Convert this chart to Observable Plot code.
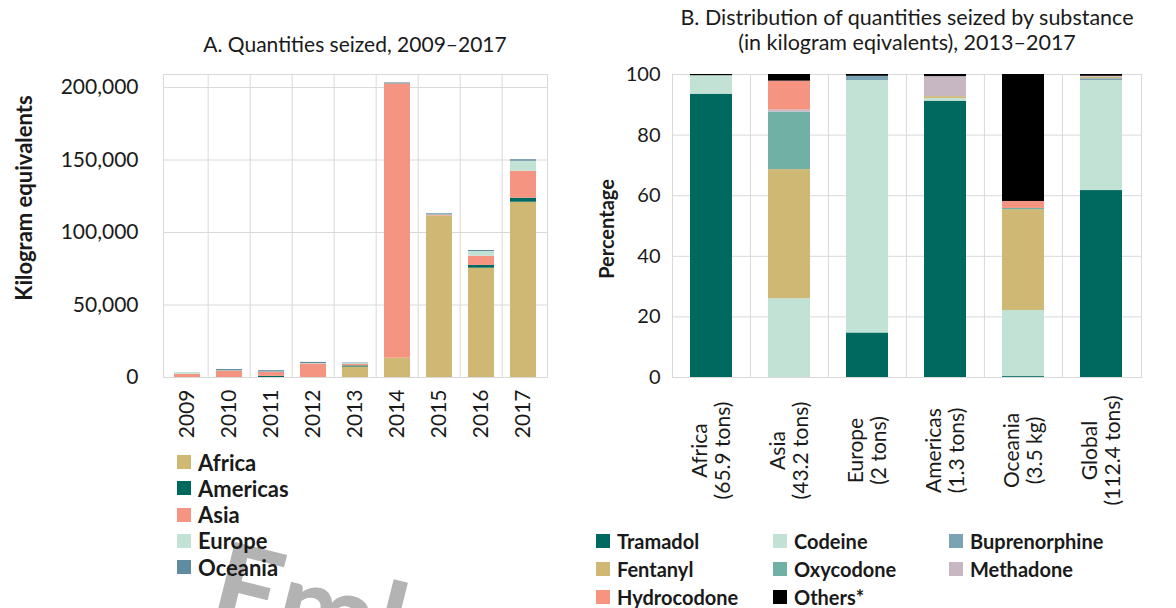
<!DOCTYPE html>
<html><head><meta charset="utf-8">
<script src="https://cdn.jsdelivr.net/npm/d3@7"></script>
<script src="https://cdn.jsdelivr.net/npm/@observablehq/plot@0.6"></script>
<style>
body{margin:0;background:#fff;font-family:Lato,"Open Sans",sans-serif;color:#1a1a1a;}
#wrap{position:relative;width:1176px;height:608px;overflow:hidden;background:#fff;}
.abs{position:absolute;white-space:nowrap;}
.title{font-size:21px;text-align:center;line-height:25px;}
.ylab{font-weight:bold;transform:translate(-50%,-50%) rotate(-90deg);}
.leg{position:absolute;font-weight:bold;display:flex;align-items:center;height:24px;}
.leg span.sw{display:inline-block;width:14px;height:14px;margin-right:7px;}
#wm{position:absolute;left:233px;top:510px;font-size:118px;line-height:1.2;font-weight:bold;color:#b3b3b3;transform:rotate(14deg);transform-origin:left top;white-space:nowrap;}
svg{overflow:visible;}
</style></head>
<body><div id="wrap"></div>
<script>
// ---------- Panel A data ----------
const years = ["2009","2010","2011","2012","2013","2014","2015","2016","2017"];
const regions = ["Africa","Americas","Asia","Europe","Oceania"];
const africa   = [0,    0,    0,    0,    7200, 13300,  111400, 75400, 120900];
const americas = [0,    0,    800,  0,    800,  0,      0,      1900,  2800];
const asia     = [2200, 4400, 2800, 9300, 1000, 189200, 500,    6400,  18600];
const europe   = [1200, 200,  200,  300,  800,  0,      200,    3200,  6900];
const oceania  = [0,    900,  900,  800,  300,  700,    800,    700,   1000];
const yTicksA = [0, 50000, 100000, 150000, 200000];
const colorsA = ["#CFB873","#00695F","#F59480","#C3E2D6","#5F8BA0"];

// ---------- Panel B data ----------
const destinations = ["Africa\n(65.9 tons)","Asia\n(43.2 tons)","Europe\n(2 tons)","Americas\n(1.3 tons)","Oceania\n(3.5 kg)","Global\n(112.4 tons)"];
const substances = ["Tramadol","Codeine","Buprenorphine","Fentanyl","Oxycodone","Methadone","Hydrocodone","Others*"];
const tramadol      = [93.5, 0,    14.7, 91.2, 0.3,  61.7];
const codeine       = [6.1,  26.0, 83.3, 0.9,  21.8, 36.3];
const buprenorphine = [0,    0,    1.4,  0,    0,    0.6];
const fentanyl      = [0,    42.6, 0,    0.6,  33.3, 0.5];
const oxycodone     = [0,    19.0, 0,    0,    0.4,  0];
const methadone     = [0,    0.7,  0,    6.6,  0,    0.3];
const hydrocodone   = [0,    9.5,  0,    0,    2.3,  0];
const others        = [0.4,  2.2,  0.6,  0.7,  41.9, 0.6];
const yTicksB = [0, 20, 40, 60, 80, 100];
const colorsB = ["#00695F","#C3E2D6","#7AA3B4","#CFB873","#71B0A4","#C6B7C3","#F59480","#000000"];
const legendOrderB = ["Tramadol","Codeine","Buprenorphine","Fentanyl","Oxycodone","Methadone","Hydrocodone","Others*"];

// ---------- build tables ----------
const seriesA = [africa, americas, asia, europe, oceania];
const dataA = [];
regions.forEach((r, j) => years.forEach((y, i) => dataA.push({year: y, region: r, value: seriesA[j][i]})));
const seriesB = [tramadol, codeine, buprenorphine, fentanyl, oxycodone, methadone, hydrocodone, others];
const dataB = [];
substances.forEach((s, j) => destinations.forEach((d, i) => dataB.push({dest: d, substance: s, value: seriesB[j][i]})));

const wrap = document.getElementById("wrap");
const grid = "#d9d9d9";
const txt = "#1a1a1a";

// ---------- watermark (behind everything else) ----------
const wm = document.createElement("div"); wm.id = "wm"; wm.textContent = "Embargoed"; wrap.appendChild(wm);

// ---------- Panel A ----------
const wA = 570, mLA = 163, mRA = 23;
const stepA = (wA - mLA - mRA) / years.length;
const plotA = Plot.plot({
  width: wA, height: 450, marginLeft: mLA, marginRight: mRA, marginTop: 74, marginBottom: 73,
  style: {fontFamily: "Lato, sans-serif", fontSize: "21px", color: txt, background: "transparent", overflow: "visible"},
  x: {domain: years, paddingInner: 0.39, paddingOuter: 0.195, label: null},
  y: {domain: [0, 209000], label: null},
  color: {domain: regions, range: colorsA},
  marks: [
    Plot.gridY(yTicksA, {stroke: grid, strokeOpacity: 1}),
    Plot.ruleX(years.slice(1), {x: d => d, dx: -stepA / 2, stroke: grid}),
    Plot.frame({stroke: grid}),
    Plot.barY(dataA, {x: "year", y: "value", fill: "region", order: regions}),
    Plot.axisY(yTicksA, {tickFormat: d3.format(","), tickSize: 0, tickPadding: 25, label: null}),
    Plot.axisX({tickRotate: -90, tickSize: 0, tickPadding: 12, label: null})
  ]
});
plotA.style.position = "absolute"; plotA.style.left = "0px"; plotA.style.top = "0px";
wrap.appendChild(plotA);

// ---------- Panel B ----------
const wB = 596, mLB = 92, mRB = 35;
const stepB = (wB - mLB - mRB) / destinations.length;
const plotB = Plot.plot({
  width: wB, height: 510, marginLeft: mLB, marginRight: mRB, marginTop: 74, marginBottom: 133,
  style: {fontFamily: "Lato, sans-serif", fontSize: "20px", color: txt, background: "transparent", overflow: "visible"},
  x: {domain: destinations, paddingInner: 0.46, paddingOuter: 0.23, label: null},
  y: {domain: [0, 100], label: null},
  color: {domain: substances, range: colorsB},
  marks: [
    Plot.gridY(yTicksB, {stroke: grid, strokeOpacity: 1}),
    Plot.ruleX(destinations.slice(1), {x: d => d, dx: -stepB / 2, stroke: grid}),
    Plot.frame({stroke: grid}),
    Plot.barY(dataB, {x: "dest", y: "value", fill: "substance", order: substances}),
    Plot.axisY(yTicksB, {tickSize: 0, tickPadding: 12, label: null}),
    Plot.axisX({tickRotate: -90, tickSize: 0, tickPadding: 73, textAnchor: "middle", lineAnchor: "middle", lineHeight: 1.1, fontSize: "21px", label: null})
  ]
});
plotB.style.position = "absolute"; plotB.style.left = "580px"; plotB.style.top = "0px";
wrap.appendChild(plotB);

// ---------- titles and axis labels ----------
function addDiv(cls, html, css) {
  const d = document.createElement("div");
  d.className = cls; d.innerHTML = html; Object.assign(d.style, css); wrap.appendChild(d); return d;
}
addDiv("abs title", "A. Quantities seized, 2009–2017", {left: "155px", width: "400px", top: "31px"});
addDiv("abs title", "B. Distribution of quantities seized by substance<br>(in kilogram eqivalents), 2013–2017", {left: "657px", width: "500px", top: "5px", fontSize: "21.5px"});
addDiv("abs ylab", "Kilogram equivalents", {left: "23px", top: "198px", fontSize: "22px"});
addDiv("abs ylab", "Percentage", {left: "606px", top: "229px", fontSize: "20px"});

// ---------- legends ----------
regions.forEach((r, i) => {
  addDiv("leg", `<span class="sw" style="background:${colorsA[i]}"></span>${r}`, {left: "177px", top: (450 + i * 26.3) + "px", fontSize: "22px"});
});
const colX = [596, 773, 949];
legendOrderB.forEach((s, i) => {
  const c = colorsB[substances.indexOf(s)];
  addDiv("leg", `<span class="sw" style="background:${c}"></span>${s}`, {left: colX[i % 3] + "px", top: (529 + Math.floor(i / 3) * 28) + "px", fontSize: "20px"});
});
</script>
</body></html>
